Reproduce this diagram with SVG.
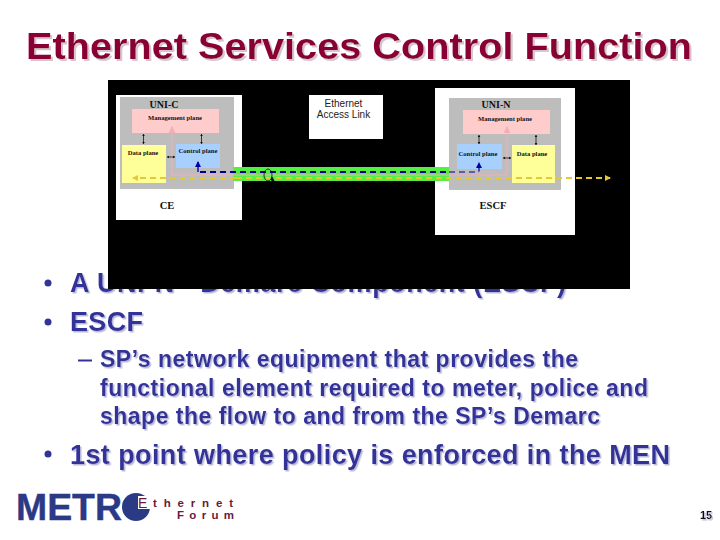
<svg xmlns="http://www.w3.org/2000/svg" width="720" height="540" viewBox="0 0 720 540">
<style>
.title{font:bold 36px "Liberation Sans",Arial,sans-serif;fill:#8a0035;filter:url(#sht)}
.b{font:bold 27px "Liberation Sans",Arial,sans-serif;fill:#333399;filter:url(#sh)}
.s{font:bold 23px "Liberation Sans",Arial,sans-serif;fill:#333399;filter:url(#sh)}
.t{font-family:"Liberation Serif","Times New Roman",serif;font-weight:bold;fill:#111;text-anchor:middle}
.pl{font-size:6.600px}.hd{font-size:10px}.lb{font-size:10.500px}
.e{font-family:"Liberation Sans",Arial,sans-serif;font-size:10px;text-anchor:middle;fill:#222}
.lg{font-family:"Liberation Sans",Arial,sans-serif;font-weight:bold;font-size:11.500px;fill:#6b1a3a}
.w{fill:#fff}.g{fill:#bdbdbd}.m{fill:#ffcccc}.c{fill:#a8d0ff}.d{fill:#ffff99}
.k{stroke:#111;stroke-width:.8;fill:none;marker-start:url(#ak);marker-end:url(#ak)}
.dash{fill:none;stroke-dasharray:6 4}
.pk{fill:none;stroke:#f0b0b8;stroke-width:1}
</style>
<defs>
<filter id="sh" x="-5%" y="-20%" width="110%" height="140%"><feDropShadow dx="1.500" dy="1.500" stdDeviation=".4" flood-color="#b8b8d8"/></filter>
<filter id="sht" x="-5%" y="-20%" width="110%" height="140%"><feDropShadow dx="2" dy="2" stdDeviation=".4" flood-color="#d8c4cc"/></filter>
<marker id="ak" markerWidth="4" markerHeight="4" refX="3" refY="2" orient="auto-start-reverse"><path d="M0 0L3 2L0 4z" fill="#111"/></marker>
<marker id="ab" markerWidth="6" markerHeight="6" refX="5" refY="3" orient="auto" markerUnits="userSpaceOnUse"><path d="M0 0L6 3L0 6z" fill="#0000aa"/></marker>
<marker id="ap" markerWidth="7" markerHeight="7" refX="6" refY="3.500" orient="auto" markerUnits="userSpaceOnUse"><path d="M0 0L7 3.500L0 7z" fill="#f0b0b8"/></marker>
<marker id="ay" markerWidth="6" markerHeight="6" refX="5" refY="3" orient="auto" markerUnits="userSpaceOnUse"><path d="M0 0L6 3L0 6z" fill="#e8c830"/></marker>
</defs>
<rect width="720" height="540" fill="#fff"/>
<text class="title" x="26" y="59" textLength="666" lengthAdjust="spacingAndGlyphs">Ethernet Services Control Function</text>
<g id="bullets">
<circle cx="48" cy="283" r="3.500" fill="#333399"/>
<text class="b" x="70" y="292" textLength="496">A UNI-N - Demarc Component (ESCF)</text>
<circle cx="48" cy="322" r="3.500" fill="#333399"/>
<text class="b" x="70" y="331" textLength="73">ESCF</text>
<path d="M78 360.500H92" stroke="#333399" stroke-width="2"/>
<text class="s" x="100" y="367" textLength="478">SP’s network equipment that provides the</text>
<text class="s" x="100" y="396" textLength="548">functional element required to meter, police and</text>
<text class="s" x="100" y="424" textLength="500">shape the flow to and from the SP’s Demarc</text>
<circle cx="48" cy="454" r="3.500" fill="#333399"/>
<text class="b" x="70" y="464" textLength="600">1st point where policy is enforced in the MEN</text>
</g>
<rect x="108" y="80" width="522" height="209" fill="#000"/>
<g id="ce">
<rect class="w" x="116" y="95" width="126" height="125"/>
<rect class="g" x="120" y="97" width="114" height="92"/>
<rect class="m" x="132" y="109" width="87" height="24"/>
<rect class="d" x="122" y="145" width="44" height="38"/>
<rect class="c" x="176" y="144" width="44" height="24"/>
<text class="t hd" x="164" y="108">UNI-C</text>
<text class="t pl" x="175" y="120">Management plane</text>
<text class="t pl" x="143" y="155">Data plane</text>
<text class="t pl" x="198" y="153">Control plane</text>
<text class="t lb" x="167" y="209">CE</text>
</g>
<g id="link-label">
<rect class="w" x="309" y="95" width="74" height="44"/>
<text class="e" x="343.500" y="106.500">Ethernet</text>
<text class="e" x="343.500" y="118">Access Link</text>
</g>
<g id="escf">
<rect class="w" x="435" y="88" width="140" height="147"/>
<rect class="g" x="449" y="98" width="112" height="92"/>
<rect class="m" x="463" y="110" width="87" height="24"/>
<rect class="c" x="457" y="144" width="45" height="25"/>
<rect class="d" x="512" y="145" width="43" height="38"/>
<text class="t hd" x="496" y="108">UNI-N</text>
<text class="t pl" x="505" y="121">Management plane</text>
<text class="t pl" x="478" y="156">Control plane</text>
<text class="t pl" x="532" y="156">Data plane</text>
<text class="t lb" x="493" y="209">ESCF</text>
</g>
<g id="connectors">
<rect x="233" y="167" width="216" height="14" fill="#55ee44"/>
<path class="pk" d="M172 175H507V127" marker-end="url(#ap)"/>
<path class="pk" d="M172 175V127" marker-end="url(#ap)"/>
<path class="dash" d="M200 172H449" stroke="#000088" stroke-width="2"/>
<path class="dash" d="M449 172H478Q479 172 479 170V163" stroke="#000088" stroke-width="1.200" marker-end="url(#ab)"/>
<path d="M198 172V162" fill="none" stroke="#0000aa" stroke-width="1.400" marker-end="url(#ab)"/>
<path class="dash" d="M236 178H133" stroke="#e8c830" stroke-width="1.800" marker-end="url(#ay)"/>
<path class="dash" d="M236 178H610" stroke="#e8c830" stroke-width="1.800" marker-end="url(#ay)"/>
<path class="k" d="M143.500 134V144"/>
<path class="k" d="M201.500 134V144"/>
<path class="k" d="M167 157H175"/>
<path class="k" d="M479 135V144"/>
<path class="k" d="M536 135V145"/>
<path class="k" d="M503 158H511"/>
<ellipse cx="268" cy="175" rx="4" ry="6" fill="none" stroke="#111" stroke-width=".8"/>
<path d="M272 177L274 181L271 180z" fill="#111" stroke="#111"/>
</g>
<g id="logo">
<text x="16" y="520" font-family="Liberation Sans,sans-serif" font-weight="bold" font-size="37" fill="#2b3a85" stroke="#2b3a85" stroke-width=".4" textLength="106" lengthAdjust="spacingAndGlyphs">METR</text>
<circle cx="136" cy="507" r="14" fill="#2b3a85"/>
<rect x="138" y="496" width="12" height="13" fill="#fff"/>
<text x="138" y="508" font-family="Liberation Sans,sans-serif" font-size="14" fill="#6b1a3a">E</text>
<text class="lg" x="153" y="507" textLength="80">thernet</text>
<text class="lg" x="177" y="518.500" textLength="57">Forum</text>
</g>
<text x="700" y="519" font-family="Liberation Sans,sans-serif" font-weight="bold" font-size="11" fill="#111" filter="url(#sh)">15</text>
</svg>
